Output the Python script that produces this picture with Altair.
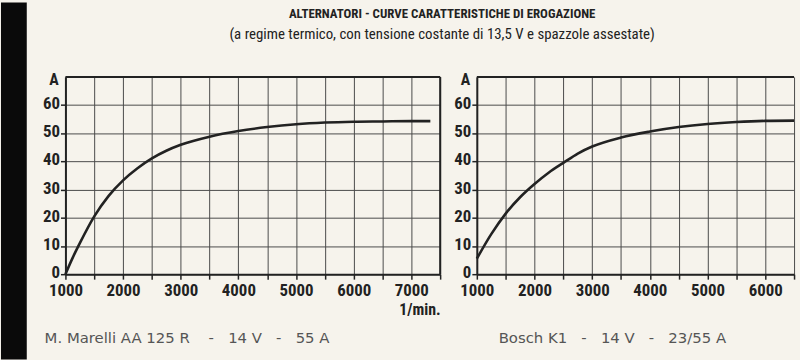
import altair as alt
import pandas as pd

# ---- data ----
rpm_marelli = [1000, 1125, 1250, 1500, 1750, 2000, 2250, 2500, 2750, 3000, 3500, 4000, 4500, 5000, 5500, 6000, 6500, 7000, 7330]
amp_marelli = [0, 5.8, 11, 20.5, 27.8, 33.3, 37.6, 41.1, 43.8, 45.9, 48.8, 50.8, 52.2, 53.2, 53.8, 54.1, 54.2, 54.3, 54.3]

rpm_bosch = [1000, 1250, 1500, 1750, 2000, 2250, 2500, 2750, 3000, 3500, 4000, 4500, 5000, 5500, 6000, 6500]
amp_bosch = [5.5, 14.2, 21.5, 27.3, 32, 36.1, 39.5, 42.8, 45.3, 48.5, 50.6, 52.2, 53.3, 54, 54.4, 54.5]

x_ticks_marelli = [1000, 1500, 2000, 2500, 3000, 3500, 4000, 4500, 5000, 5500, 6000, 6500, 7000, 7500]
x_ticks_bosch = [1000, 1500, 2000, 2500, 3000, 3500, 4000, 4500, 5000, 5500, 6000, 6500]
y_ticks = [0, 10, 20, 30, 40, 50, 60]
y_max = [70]

NB = "\u00a0"
title_main = ["ALTERNATORI - CURVE CARATTERISTICHE DI EROGAZIONE"]
title_sub = ["(a regime termico, con tensione costante di 13,5 V e spazzole assestate)"]
caption_marelli = ["M. Marelli AA 125 R" + NB * 4 + "-" + NB * 3 + "14 V" + NB * 3 + "-" + NB * 3 + "55 A"]
caption_bosch = ["Bosch K1" + NB * 3 + "-" + NB * 3 + "14 V" + NB * 3 + "-" + NB * 3 + "23/55 A"]
y_unit = "A"
x_unit = "1/min."

NARROW = "Roboto Condensed, Liberation Sans Narrow, Liberation Sans, Arial, sans-serif"
SANS = "DejaVu Sans, Liberation Sans, sans-serif"
INK = "#222222"
BG = "#f6f3ec"
H = 199


def panel(rpm, amp, xmax, ticks, caption, width, show_unit, left):
    df = pd.DataFrame({"rpm": rpm, "amp": amp})
    xs = alt.Scale(domain=[1000, xmax], nice=False, zero=False)
    ys = alt.Scale(domain=[0, 70], nice=False, zero=False)
    xkw = dict(
        values=ticks,
        labelExpr="datum.value % 1000 == 0 ? format(datum.value, 'd') : ''",
        grid=True, gridColor="#4a4a4a", gridWidth=1,
        domain=True, domainColor=INK, domainWidth=2,
        tickColor=INK, tickSize=5, tickWidth=1.5,
        labelFont=NARROW, labelFontSize=17, labelFontWeight="bold",
        labelColor=INK, labelPadding=4, labelFlush=False, labelOverlap=False,
    )
    if show_unit:
        xkw.update(title=x_unit, titleX=width, titleY=36, titleAlign="right",
                   titleBaseline="middle", titleFont=NARROW, titleFontSize=16,
                   titleFontWeight="bold", titleColor=INK)
    else:
        xkw.update(title="")
    xax = alt.Axis(**xkw)
    yax = alt.Axis(
        values=y_ticks, grid=True, gridColor="#4a4a4a", gridWidth=1,
        domain=True, domainColor=INK, domainWidth=2,
        tickColor=INK, tickSize=5, tickWidth=1.5,
        labelFont=NARROW, labelFontSize=17, labelFontWeight="bold",
        labelColor=INK, labelPadding=1, labelOffset=-1.5,
        labelFlush=False, labelOverlap=False,
        title=y_unit, titleAngle=0, titleX=-12, titleY=3, titleAlign="center",
        titleBaseline="middle", titleFont=NARROW, titleFontSize=16,
        titleFontWeight="bold", titleColor=INK,
    )
    line = alt.Chart(df).mark_line(color=INK, strokeWidth=2.6, interpolate="monotone").encode(
        x=alt.X("rpm:Q", scale=xs, axis=xax),
        y=alt.Y("amp:Q", scale=ys, axis=yax),
    )
    top = alt.Chart(pd.DataFrame({"amp": y_max})).mark_rule(color=INK, strokeWidth=2).encode(
        y=alt.Y("amp:Q", scale=ys, axis=yax)
    )
    cap = alt.Chart(pd.DataFrame({"t": caption})).mark_text(
        align="left", baseline="middle", font=SANS, fontSize=15, color="#555555"
    ).encode(text="t:N", x=alt.value(-21 if left else 22), y=alt.value(263))
    layers = [line, top, cap]
    if left:
        right_edge = alt.Chart(pd.DataFrame({"rpm": [xmax]})).mark_rule(color=INK, strokeWidth=2).encode(
            x=alt.X("rpm:Q", scale=xs, axis=xax)
        )
        strip = alt.Chart(pd.DataFrame({"t": [""]})).mark_rect(color="#0a0a0a").encode(
            x=alt.value(-65), x2=alt.value(-39), y=alt.value(-75), y2=alt.value(285)
        )
        t1 = alt.Chart(pd.DataFrame({"t": title_main})).mark_text(
            align="center", baseline="middle", font=NARROW, fontSize=13,
            fontWeight="bold", color=INK
        ).encode(text="t:N", x=alt.value(380), y=alt.value(-63))
        t2 = alt.Chart(pd.DataFrame({"t": title_sub})).mark_text(
            align="center", baseline="middle", font=NARROW, fontSize=15, color=INK
        ).encode(text="t:N", x=alt.value(380), y=alt.value(-43))
        layers = [strip, right_edge, t1, t2] + layers
    return alt.layer(*layers).properties(width=width, height=H)


left = panel(rpm_marelli, amp_marelli, 7500, x_ticks_marelli, caption_marelli, 378, True, True)
right = panel(rpm_bosch, amp_bosch, 6500, x_ticks_bosch, caption_bosch, 320, False, False)

chart = alt.hconcat(left, right, spacing=37, bounds="flush").properties(
    background=BG, padding=0
).configure_view(stroke="transparent")

chart.save("out.html", embed_options={"renderer": "svg", "actions": False})
